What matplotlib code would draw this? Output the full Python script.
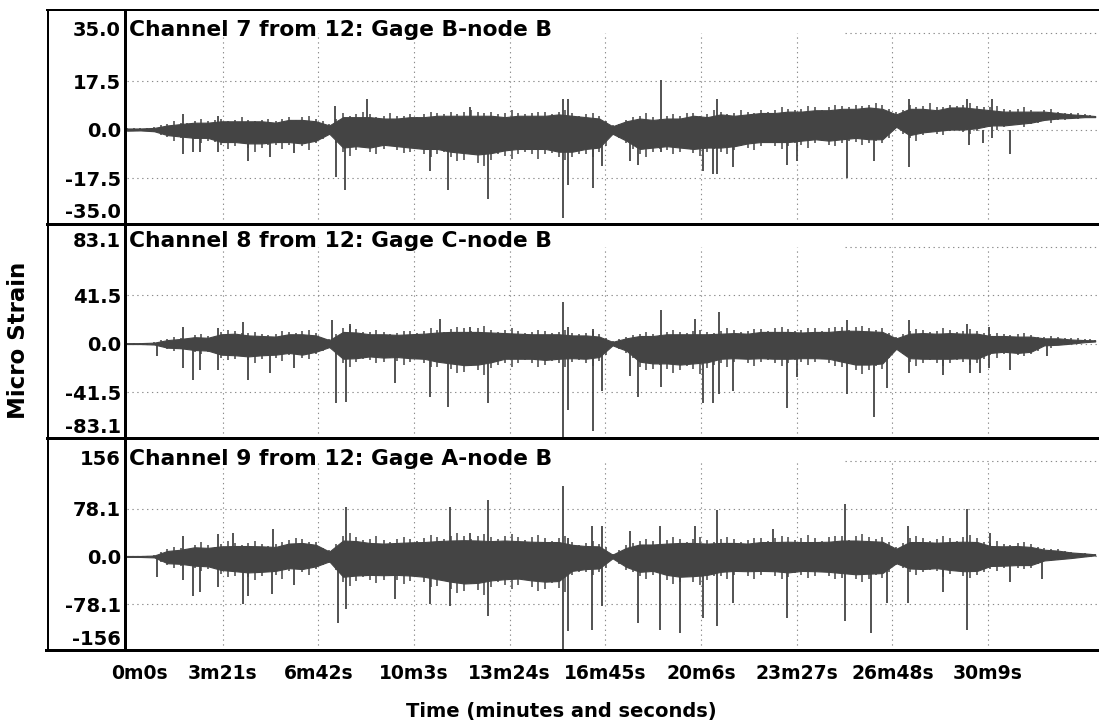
import matplotlib

matplotlib.use("Agg")
import matplotlib.pyplot as plt
from matplotlib.lines import Line2D

W, H = 1099, 725

# time (s) of each envelope reading, and of the readings half-way between them
env_t = [0, 28, 57, 85, 113, 142, 170, 198, 227, 255, 283, 312, 340, 368, 397,
         425, 454, 482, 510, 539, 567, 595, 624, 652, 680, 709, 737, 765, 794,
         822, 850, 879, 907, 935, 964, 992, 1020, 1049, 1077, 1105, 1134, 1162,
         1190, 1219, 1247, 1276, 1304, 1332, 1361, 1389, 1417, 1446, 1474, 1502,
         1531, 1559, 1587, 1616, 1644, 1672, 1701, 1729, 1757, 1786, 1814, 1842,
         1871, 1899, 1927, 1956, 1984, 2012, 2034]
mid_t = [14, 42, 71, 99, 127, 156, 184, 212, 241, 269, 297, 326, 354, 382, 411,
         439, 468, 496, 524, 553, 581, 609, 638, 666, 694, 723, 751, 779, 808,
         836, 864, 893, 921, 949, 978, 1006, 1034, 1063, 1091, 1119, 1148, 1176,
         1204, 1233, 1261, 1290, 1318, 1346, 1375, 1403, 1431, 1460, 1488, 1516,
         1545, 1573, 1601, 1630, 1658, 1686, 1715, 1743, 1771, 1800, 1828, 1856,
         1885, 1913, 1941, 1970, 1998, 2023]

# ---- Channel 7 (micro strain) ----
ch7_core_hi = [0.4, 0.4, 0.6, 1.5, 2, 2.5, 2.5, 3, 3, 3, 3, 2.5, 3.5, 3.5, 3, 1.5,
               4.5, 4.5, 4.5, 4, 4, 4.5, 4.5, 5, 5, 5, 5, 5, 4.5, 5, 5, 5,
               5.5, 5, 4.5, 4, 1.2, 3, 4, 3.5, 4, 4, 5, 4.5, 5.5, 5, 5.5, 6,
               6, 6.5, 6.5, 7, 7, 7.5, 7.5, 8, 7.5, 5.5, 7.5, 7.5, 7, 8, 8, 7.5,
               7, 6.5, 6.5, 6.5, 6.5, 6, 5.5, 5.2, 4.9]
ch7_core_lo = [-0.4, -0.3, -0.6, -2, -2.5, -3, -3, -4.5, -4.5, -5, -5, -4.5, -4.5,
               -5, -4, -1.5, -6.5, -6, -6.5, -5.5, -6, -6.5, -7, -7, -8, -8.5, -9,
               -8.5, -7.5, -7, -7, -7, -8, -8, -7, -6.5, -1.5, -4, -7, -6.5, -6,
               -6.5, -7, -6.5, -6.5, -6, -5, -4.5, -4.5, -4.5, -4, -3.5, -4, -3.5,
               -3, -3.5, -3.5, 1, -2, -1, -0.5, 0, 0, 0.5, 1.5, 1.5, 2, 2.5, 3.5,
               4, 4.2, 4.5, 4.5]
ch7_upper = [0.5, 0.5, 0.8, 2, 2.5, 3, 3, 4, 3.5, 3.5, 3.5, 3, 4.5, 4.5, 4, 2, 6,
             5.5, 5.5, 5, 5, 5.5, 5.5, 6, 6.5, 6.5, 6.5, 6.5, 6, 6, 6, 6.5, 6.5,
             6, 5.5, 5, 1.5, 3.5, 5, 4.5, 5, 5, 6, 5.5, 6.5, 6, 6.5, 7, 7, 7.5,
             7.5, 8, 8, 8.5, 9, 9, 9, 6.5, 9, 8.5, 8, 9, 9, 8.5, 8, 7.5, 7.5, 7,
             7, 6.5, 6, 5.5, 5]
ch7_lower = [-0.5, -0.3, -0.8, -2.5, -3, -3.5, -4, -5.5, -6, -6.5, -6.5, -5.5,
             -5.5, -6, -5, -2, -8, -7.5, -8, -7, -7.5, -8, -9, -9, -10, -11, -12,
             -11, -9.5, -9, -9, -9, -10, -10, -9, -8, -2, -5, -9, -8, -7.5, -8,
             -8.5, -8, -8, -7.5, -6.5, -6, -6, -6, -5.5, -5, -5.5, -5, -4.5, -5,
             -5, 0.5, -3, -2, -1.5, -0.5, -1, -0.5, 1, 1, 1.5, 2, 3, 3.5, 4, 4.5,
             4.5]
ch7_mid_hi = [0.5, 0.6, 1.5, 3, 2.5, 4, 3.5, 3, 4.5, 3, 4, 4, 3.5, 5, 3, 4,
              5, 6.5, 4.5, 6, 5, 4.5, 6.5, 5.5, 5.5, 7, 6, 5.5, 7, 5.5, 6.5, 5.5,
              7, 5, 6, 3, 2, 4.5, 6, 4, 5.5, 6, 5, 7, 5.5, 7, 6, 6.5,
              8, 7, 8.5, 7, 9, 8, 8.5, 9.5, 7.5, 7, 8, 9.5, 8, 8.5, 9.5, 8,
              8.5, 7, 8, 6.5, 7.5, 6, 6, 5.2]
ch7_mid_lo = [-0.4, -0.6, -2, -4, -2.5, -5, -4.5, -7, -5, -8, -5.5, -7, -4.5,
              -7.5, -3.5, -5, -9.5, -6, -9, -6, -8.5, -7, -10, -8, -11.5, -9, -13,
              -9, -10.5, -8, -10.5, -8.5, -11, -9, -10, -6, -3, -7, -10, -7, -9,
              -7, -9.5, -7, -9, -6, -7.5, -5, -7, -5, -6.5, -4, -6, -4, -5.5, -4,
              -3, -1.5, -4, -1, -2, 0, -1.5, 0.5, 0, 2, 1, 2.5, 2.5, 3.5, 4, 4.4]
ch7_spike_t = [117, 117, 139, 153, 192, 192, 255, 300, 350, 437, 440, 458, 504,
               637, 675, 721, 759, 916, 916, 927, 927, 980, 997, 1056, 1074, 1122,
               1122, 1210, 1232, 1239, 1239, 1274, 1386, 1407, 1512, 1569, 1643,
               1643, 1764, 1768, 1799, 1817, 1817, 1855]
ch7_spike_v = [5.7, -9, -8, -8, 5, -8, -11.5, -9.8, -8.6, 8.7, -17, -21.7, 11,
               -15, -22, 8, -25, 11, -32, 11, -20, -21, -13, -11.5, -12.7, 18, -8,
               -15, -16, 11, -16, -13.5, -12.7, -11.5, -17.5, -11.5, 11, -13.5, 11,
               -5.5, -5, 11, -3.2, -9]

# ---- Channel 8 ----
ch8_core_hi = [0.4, 0.4, 0.8, 3, 4, 5.5, 5, 8, 8.5, 7, 6.5, 6, 8, 8, 7, 3,
               10, 9.5, 8, 8, 7.5, 8, 8.5, 9.5, 10, 10, 10, 9.5, 9, 8.5, 8, 8,
               8, 7, 7, 6, 1.5, 4.5, 6.5, 6.5, 8, 8, 8, 8, 8.5, 9, 8.5, 10,
               10, 10, 9.5, 10, 10, 11, 11, 10.5, 10, 4.5, 8.5, 9, 8.5, 9, 8.5,
               8.5, 6.5, 6.5, 6, 6, 4.5, 4.5, 3.5, 3, 2.8]
ch8_core_lo = [-0.4, -0.4, -0.8, -3.5, -4, -5.5, -6, -9.5, -10, -11, -10, -9.5,
               -8, -9.5, -7, -3, -13, -12.5, -11, -12, -11.5, -12.5, -13, -15.5,
               -17, -18.5, -18, -16, -13, -13, -13, -14, -13, -12.5, -13, -11.5,
               -1.5, -6, -15.5, -17, -17, -18, -17, -16, -13, -12.5, -13, -12.5,
               -13, -13, -12.5, -12.5, -13, -15.5, -18, -18, -17, -4.5, -12.5, -13,
               -13, -13, -12.5, -13, -8, -7, -8, -7, -1.5, -1, 0, 1.2, 1.8]
ch8_upper = [0.5, 0.5, 1, 4, 5, 7, 6.5, 10, 11, 9, 8.5, 8, 10, 10.5, 9, 4, 13,
             12.5, 10, 10, 9.5, 10.5, 11, 12, 12.5, 13, 13, 12, 11.5, 11, 10,
             10.5, 10, 9, 9, 8, 2, 6, 8.5, 8.5, 10, 10, 10.5, 10, 11, 11.5, 11,
             12.5, 13, 12.5, 12, 13, 13, 14, 14, 13.5, 13, 5.5, 11, 11.5, 11,
             11.5, 11, 11, 8.5, 8.5, 8, 7.5, 6, 5.5, 4.5, 4, 3.5]
ch8_lower = [-0.5, -0.5, -1, -4.5, -5, -7, -7.5, -12, -13, -14, -13, -12, -10,
             -12, -9, -4, -17, -16, -14, -15.5, -15, -16, -17, -20, -22, -24, -23,
             -21, -17, -17, -17, -18, -17, -16, -17, -15, -2, -8, -20, -22, -22,
             -23, -22, -21, -17, -16, -17, -16, -17, -17, -16, -16, -17, -20, -23,
             -23, -22, -5.5, -16, -17, -17, -17, -16, -17, -10, -9, -10, -9, -2,
             -1.5, 0, 1.5, 2]
ch8_mid_hi = [0.5, 0.8, 3, 5.5, 4, 8, 6, 12, 9, 10, 7, 11, 9, 12, 5, 8,
              15, 10, 12, 8.5, 11, 9, 13, 10, 14, 11, 15, 10, 13, 9.5, 12, 9,
              11.5, 8, 10.5, 5, 4, 7, 10, 7.5, 11.5, 9, 12, 9, 13, 10, 12.5, 11,
              14, 11, 13.5, 11, 14.5, 12, 15, 12, 9, 8, 12.5, 10, 13, 10, 12.5,
              9.5, 9.5, 7, 9, 6, 6.5, 5, 4.5, 3.8]
ch8_mid_lo = [-0.5, -0.8, -3, -6.5, -4.5, -9, -6, -14, -10, -17, -10, -15, -8,
              -13, -6, -9, -20, -13, -17, -12, -18, -13, -20, -16, -25, -19, -27,
              -18, -20, -14, -20, -15, -20, -14, -19, -10, -5, -12, -23, -18, -25,
              -19, -26, -18, -20, -13, -19, -14, -19, -14, -18, -13, -19, -16, -26,
              -19, -12, -9, -19, -14, -19, -14, -18, -13, -12, -7, -11, -6, -4,
              -1, 0.5, 1.5]
ch8_spike_t = [62, 117, 117, 139, 153, 192, 192, 244, 255, 300, 350, 430, 440,
               461, 469, 563, 637, 658, 675, 721, 759, 916, 916, 927, 927, 980,
               980, 997, 1056, 1074, 1122, 1122, 1193, 1210, 1232, 1243, 1243,
               1274, 1386, 1407, 1512, 1512, 1569, 1596, 1643, 1643, 1715, 1764,
               1771, 1793, 1810, 1810, 1855, 1932]
ch8_spike_v = [-11, 14, -21, -31, -23, 13, -23, 18.5, -31, -25.6, -21, 20, -51,
               -50, 17, -34, -45.5, 21, -54, 14, -51, 35.6, -80, 14, -57, -75,
               12.8, -41, -28, -45.5, 28.5, -37, 21, -51, -51, 27, -43, -41, -55.5,
               -28.5, 20, -43, -62.5, -38, 20, -25.6, -27, 17, -25.6, -25.6, 14,
               -21, -23, -11]

# ---- Channel 9 ----
ch9_core_hi = [0.8, 0.8, 1.5, 9, 11, 15, 14, 16.5, 17, 17, 16.5, 15.5, 21, 22, 19,
               8, 26, 25, 22, 21, 22, 23, 23.5, 25, 26, 26.5, 26, 25, 26, 25, 24,
               23.5, 23.5, 19, 17, 16.5, 3, 14, 19.5, 19.5, 21, 22, 22, 21, 22, 22,
               21, 23.5, 23.5, 24, 23.5, 23.5, 24, 26, 26, 25, 24, 12.5, 23.5, 23.5,
               22.5, 23.5, 24, 23.5, 17, 16.5, 17, 15.5, 11, 9.5, 6.5, 5, 3.5]
ch9_core_lo = [-0.8, -0.8, -1.5, -11, -12, -15, -16, -22, -24, -26, -25, -23.5,
               -19, -20.5, -16, -8, -33, -31, -30, -30.5, -30, -31, -33, -37, -41,
               -44, -43, -39, -37, -36, -39, -41, -40, -23.5, -20.5, -19.5, -3, -17,
               -25, -23.5, -30, -33, -32, -30, -25, -23.5, -24, -23.5, -24, -26,
               -23.5, -24, -25, -27, -29, -28, -27, -11, -19.5, -20.5, -19, -22,
               -24, -23.5, -15.5, -15, -14, -14, -6.5, -4.5, -2.5, 0, 1.8]
ch9_upper = [1, 1, 2, 12, 14, 19, 18, 21, 22, 22, 21, 20, 27, 28, 24, 10, 33, 32,
             28, 27, 28, 29, 30, 32, 33, 34, 33, 32, 33, 32, 31, 30, 30, 24, 22,
             21, 4, 18, 25, 25, 27, 28, 28, 27, 28, 28, 27, 30, 30, 31, 30, 30, 31,
             33, 33, 32, 31, 16, 30, 30, 29, 30, 31, 30, 22, 21, 22, 20, 14, 12, 8,
             6, 4]
ch9_lower = [-1, -1, -2, -14, -15, -19, -20, -28, -31, -33, -32, -30, -24, -26,
             -20, -10, -42, -40, -38, -39, -38, -40, -42, -48, -53, -57, -55, -50,
             -47, -46, -50, -53, -52, -30, -26, -25, -4, -22, -32, -30, -38, -42,
             -41, -38, -32, -30, -31, -30, -31, -33, -30, -31, -32, -35, -37, -36,
             -35, -14, -25, -26, -24, -28, -31, -30, -20, -19, -18, -18, -8, -6,
             -3, 0, 2]
ch9_mid_hi = [1, 1.5, 8, 16, 11, 23, 15, 25, 18, 26, 17, 24, 30, 23, 14, 20,
              38, 27, 33, 23, 31, 25, 35, 28, 38, 29, 37, 28, 36, 27, 35, 26,
              34, 19, 25, 15, 10, 22, 29, 21, 31, 24, 32, 23, 31, 24, 30, 25,
              34, 27, 35, 26, 34, 27, 37, 29, 24, 22, 34, 26, 33, 26, 35, 24,
              25, 18, 24, 16, 12, 9, 6, 4]
ch9_mid_lo = [-1, -1.5, -9, -18, -12, -24, -15, -33, -24, -38, -25, -36, -19, -30,
              -14, -22, -48, -33, -44, -31, -45, -32, -50, -38, -60, -45, -62, -42,
              -53, -39, -57, -44, -58, -26, -30, -18, -12, -26, -37, -27, -45, -33,
              -47, -32, -37, -26, -36, -25, -36, -27, -35, -26, -37, -29, -41, -30,
              -26, -18, -30, -22, -33, -24, -35, -25, -23, -15, -21, -12, -7, -4,
              -1, 1]
ch9_spike_t = [62, 117, 117, 139, 153, 192, 192, 223, 244, 255, 304, 307, 350,
               444, 461, 461, 563, 637, 678, 678, 721, 759, 759, 916, 916, 927, 927,
               976, 976, 997, 997, 1056, 1074, 1120, 1120, 1161, 1193, 1210, 1239,
               1239, 1274, 1358, 1386, 1508, 1508, 1564, 1596, 1641, 1641, 1715,
               1764, 1764, 1813, 1855, 1922]
ch9_spike_v = [-33, 33, -39, -64, -58, 36, -50, 39, -78, -64, -61, 44, -47, -108,
               80.5, -86, -69, -78, 80.5, -80, 39, 91.6, -97, 114, -153, -122, 30,
               50, -119, 50, -80, 42, -108, 50, -119, -125, 50, -100, 75, -114, -75,
               44, -100, 86, -105.5, -125, -75, 50, -75, -58, 78, -119, 39, -42, -36]

titles = ["Channel 7 from 12: Gage B-node B",
          "Channel 8 from 12: Gage C-node B",
          "Channel 9 from 12: Gage A-node B"]
grid_steps = [17.5, 41.5, 78.1]
y_labels = [["35.0", "17.5", "0.0", "-17.5", "-35.0"],
            ["83.1", "41.5", "0.0", "-41.5", "-83.1"],
            ["156", "78.1", "0.0", "-78.1", "-156"]]
x_ticks = [0, 201, 402, 603, 804, 1005, 1206, 1407, 1608, 1809]
x_labels = ["0m0s", "3m21s", "6m42s", "10m3s", "13m24s", "16m45s", "20m6s",
            "23m27s", "26m48s", "30m9s"]

channels = [
    (ch7_core_lo, ch7_core_hi, ch7_lower, ch7_upper, ch7_mid_lo, ch7_mid_hi,
     ch7_spike_t, ch7_spike_v),
    (ch8_core_lo, ch8_core_hi, ch8_lower, ch8_upper, ch8_mid_lo, ch8_mid_hi,
     ch8_spike_t, ch8_spike_v),
    (ch9_core_lo, ch9_core_hi, ch9_lower, ch9_upper, ch9_mid_lo, ch9_mid_hi,
     ch9_spike_t, ch9_spike_v),
]

T_MAX = 2042
SIG = "#444444"
GRID = "#8a8a8a"
BOLD = dict(family="DejaVu Sans", weight="bold")
PX = 0.72  # points per pixel at dpi 100

panel_px = [(10, 224), (224, 438), (438, 650)]
top_frac = [0.905, 0.92, 0.9]
bot_frac = [0.055, 0.05, 0.05]


def fx(px):
    return px / W


def fy(px):
    return 1 - px / H


fig = plt.figure(figsize=(W / 100, H / 100), dpi=100)
fig.patch.set_facecolor("white")

axes = []
for i, (top, bot) in enumerate(panel_px):
    ax = fig.add_axes([fx(127), fy(bot), 1 - fx(127), (bot - top) / H])
    step = grid_steps[i]
    ax.set_xlim(0, T_MAX)
    ax.set_ylim(-1.95 * step, 2.47 * step)
    for sp in ax.spines.values():
        sp.set_visible(False)

    # grid
    dots = (0, (1.2, 3.2))
    ax.hlines([step, 0, -step], 0, T_MAX, color=GRID, lw=0.8, ls=dots, zorder=0)
    ax.hlines(2 * step, 1508, T_MAX, color=GRID, lw=0.8, ls=dots, zorder=0)
    ax.vlines(x_ticks[1:], -1.95 * step, 2 * step, color=GRID, lw=0.8, ls=dots,
              zorder=0)

    # signal: dense core, hairy edges, isolated spikes
    core_lo, core_hi, lo, hi, mlo, mhi, sp_t, sp_v = channels[i]
    ax.fill_between(env_t, core_lo, core_hi, color=SIG, lw=0.8, zorder=2)
    ax.vlines(env_t, lo, hi, color=SIG, lw=1.1, zorder=2)
    ax.vlines(mid_t, mlo, mhi, color=SIG, lw=1.1, zorder=2)
    ax.vlines(sp_t, 0, sp_v, color=SIG, lw=1.3, zorder=2)

    ax.set_yticks([step, 0, -step])
    ax.set_yticklabels(y_labels[i][1:4], fontsize=14, **BOLD)
    ax.tick_params(axis="y", length=0, pad=6 * PX)
    ax.annotate(y_labels[i][0], xy=(0, top_frac[i]), xycoords="axes fraction",
                xytext=(-6 * PX, 0), textcoords="offset points", ha="right",
                va="center", fontsize=14, **BOLD)
    ax.annotate(y_labels[i][4], xy=(0, bot_frac[i]), xycoords="axes fraction",
                xytext=(-6 * PX, 0), textcoords="offset points", ha="right",
                va="center", fontsize=14, **BOLD)
    ax.annotate(titles[i], xy=(0, top_frac[i]), xycoords="axes fraction",
                xytext=(2 * PX, 0), textcoords="offset points", ha="left",
                va="center", fontsize=15.7, **BOLD)
    axes.append(ax)

for ax in axes[:2]:
    ax.set_xticks([])

ax3 = axes[2]
ax3.set_xticks(x_ticks[1:])
ax3.set_xticklabels(x_labels[1:], fontsize=13.5, **BOLD)
ax3.tick_params(axis="x", length=0, pad=14 * PX)
ax3.annotate(x_labels[0], xy=(0, 0), xycoords=("data", "axes fraction"),
             xytext=(12.5 * PX, -14 * PX), textcoords="offset points",
             ha="center", va="top", fontsize=13.5, **BOLD)


# frame lines
def hline(y, x0, lw):
    fig.add_artist(Line2D([fx(x0), 1], [fy(y), fy(y)], lw=lw * PX, color="black"))


def vline(x, y0, y1, lw):
    fig.add_artist(Line2D([fx(x), fx(x)], [fy(y0), fy(y1)], lw=lw * PX,
                          color="black"))


hline(10, 47, 2)
hline(224, 47, 3)
hline(438, 47, 3)
hline(650, 46, 3)
vline(48, 10, 650, 2)
vline(125, 10, 650, 3)

fig.text(fx(19), fy(340), "Micro Strain", rotation=90, ha="center", va="center",
         fontsize=16.5, **BOLD)
fig.text(fx(561), fy(712), "Time (minutes and seconds)", ha="center",
         va="center", fontsize=14, **BOLD)

fig.savefig("out.png", dpi=100)
